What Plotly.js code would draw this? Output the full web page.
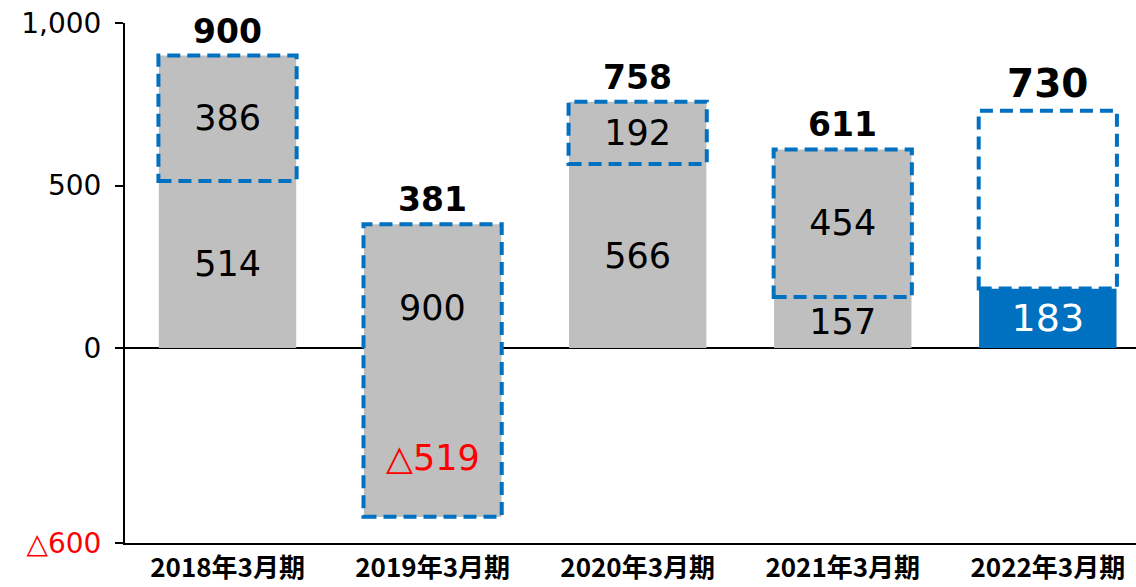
<!DOCTYPE html>
<html>
<head>
<meta charset="utf-8">
<script src="https://cdn.plot.ly/plotly-3.0.1.min.js"></script>
<style>
  html, body { margin: 0; padding: 0; background: #fff; }
  #chart { width: 1136px; height: 587px; }
</style>
</head>
<body>
<div id="chart"></div>
<script>
// data
var categories = ["2018年3月期", "2019年3月期", "2020年3月期", "2021年3月期", "2022年3月期"];
var baseVals = [514, -519, 566, 157, 183];
var addVals = [386, 900, 192, 454, 547];
var baseLabels = ["514", "△519", "566", "157", "183"];
var addLabels = ["386", "900", "192", "454", ""];
var tickVals = [-600, 0, 500, 1000];
var tickText = ['<span style="color:#FF0000">△600</span>', "0", "500", "1,000"];

var grey = "#BFBFBF";
var blue = "#0070C0";
var numFont = "DejaVu Sans, Noto Sans CJK JP, sans-serif";

var totals = baseVals.map(function (b, i) { return b + addVals[i]; });
var last = categories.length - 1;

// 2019 labels are placed by hand in the original, so they go in annotations
var baseText = baseLabels.map(function (t, i) { return i === 1 ? "" : t; });
var addText = addLabels.map(function (t, i) { return i === 1 ? "" : t; });

var trace1 = {
	x: categories,
	y: baseVals,
	type: "bar",
	width: 0.67,
	marker: {
		color: categories.map(function (c, i) { return i === last ? blue : grey; }),
		line: { width: 0 },
	},
	text: baseText,
	textposition: "inside",
	insidetextanchor: "middle",
	textangle: 0,
	constraintext: "none",
	textfont: {
		family: numFont,
		size: categories.map(function (c, i) { return i === last ? 38 : 35; }),
		color: categories.map(function (c, i) { return i === last ? "#FFFFFF" : "#000000"; }),
	},
	hoverinfo: "skip",
};

var trace2 = {
	x: categories,
	y: addVals,
	base: baseVals,
	type: "bar",
	width: 0.67,
	marker: {
		color: categories.map(function (c, i) { return i === last ? "#FFFFFF" : grey; }),
		line: { width: 0 },
	},
	text: addText,
	textposition: "inside",
	insidetextanchor: "middle",
	textangle: 0,
	constraintext: "none",
	textfont: { family: numFont, size: 35, color: "#000000" },
	hoverinfo: "skip",
};

// dashed outlines round the added part
var shapes = categories.map(function (c, i) {
	return {
		type: "rect",
		xref: "x",
		yref: "y",
		x0: i - 0.337,
		x1: i + 0.337,
		y0: baseVals[i],
		y1: totals[i],
		line: { color: blue, width: 4, dash: "13px,7px" },
		fillcolor: "rgba(0,0,0,0)",
		layer: "above",
	};
});

// totals on top
var annotations = categories.map(function (c, i) {
	return {
		x: c,
		y: totals[i],
		text: String(totals[i]),
		showarrow: false,
		yanchor: "bottom",
		yshift: 3,
		font: { family: numFont, size: i === last ? 39 : 33, color: "#000000", weight: "bold" },
	};
});

annotations.push({
	x: categories[1],
	y: totals[1] / 2,
	text: addLabels[1],
	showarrow: false,
	yshift: -22,
	font: { family: numFont, size: 35, color: "#000000" },
});
annotations.push({
	x: categories[1],
	y: baseVals[1] / 2,
	text: baseLabels[1],
	showarrow: false,
	yshift: -26,
	font: { family: numFont, size: 35, color: "#FF0000" },
});

var layout = {
	width: 1136,
	height: 587,
	margin: { l: 125, r: 0, t: 23, b: 44 },
	paper_bgcolor: "#FFFFFF",
	plot_bgcolor: "#FFFFFF",
	barmode: "overlay",
	showlegend: false,
	xaxis: {
		type: "category",
		range: [-0.5, 4.43],
		showgrid: false,
		showline: true,
		linecolor: "#000000",
		linewidth: 2,
		ticks: "",
		tickfont: { family: "Noto Sans CJK JP, sans-serif", size: 26, color: "#000000", weight: "bold" },
		ticklabelstandoff: 1,
	},
	yaxis: {
		range: [-600, 1000],
		tickvals: tickVals,
		ticktext: tickText,
		showgrid: false,
		showline: true,
		linecolor: "#000000",
		linewidth: 2,
		ticks: "outside",
		ticklen: 8,
		tickwidth: 2,
		tickcolor: "#000000",
		ticklabelstandoff: 8,
		zeroline: true,
		zerolinecolor: "#000000",
		zerolinewidth: 2,
		tickfont: { family: numFont, size: 28, color: "#000000" },
	},
	shapes: shapes,
	annotations: annotations,
};

var config = {
	responsive: false,
	displayModeBar: false,
	staticPlot: true,
};

Plotly.newPlot("chart", [trace1, trace2], layout, config);
</script>
</body>
</html>
